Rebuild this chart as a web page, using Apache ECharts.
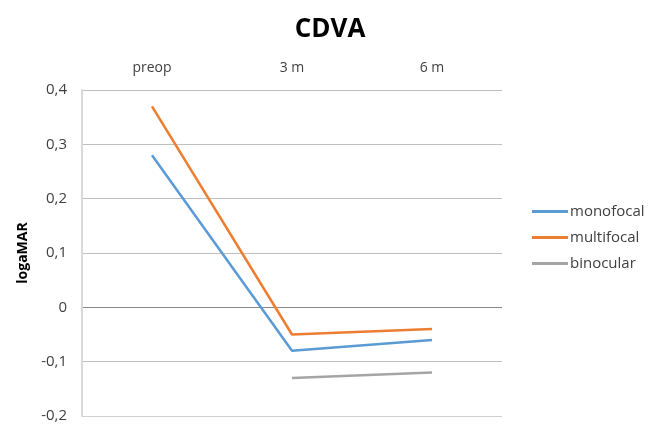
<!DOCTYPE html>
<html>
<head>
<meta charset="utf-8">
<script src="https://cdn.jsdelivr.net/npm/echarts@6/dist/echarts.min.js"></script>
<style>
  html, body { margin: 0; padding: 0; background: #fff; }
  #chart { width: 656px; height: 424px; }
</style>
</head>
<body>
<div id="chart"></div>
<script>
  var categories = ['preop', '3 m', '6 m'];
  var monofocal = [0.28, -0.08, -0.06];
  var multifocal = [0.37, -0.05, -0.04];
  var binocular = [null, -0.13, -0.12];

  var chart = echarts.init(document.getElementById('chart'));
  var font = '"Open Sans", sans-serif';

  function line(name, data, color) {
    return {
      name: name,
      type: 'line',
      data: data,
      symbol: 'none',
      lineStyle: { color: color, width: 2.5 },
      itemStyle: { color: color }
    };
  }

  chart.setOption({
    animation: false,
    title: {
      text: 'CDVA',
      left: 325,
      top: 12,
      textAlign: 'center',
      textStyle: { fontFamily: font, fontSize: 26, fontWeight: 'bold', color: '#000' }
    },
    legend: {
      orient: 'vertical',
      left: 527,
      top: 199,
      itemWidth: 36,
      itemHeight: 3,
      itemGap: 11,
      icon: 'rect',
      textStyle: { fontFamily: font, fontSize: 15, color: '#404040', padding: [0, 0, 0, -3] },
      data: ['monofocal', 'multifocal', 'binocular']
    },
    grid: { left: 82, right: 154, top: 90, bottom: 8 },
    xAxis: {
      type: 'category',
      position: 'top',
      data: categories,
      axisLine: { show: false },
      axisTick: { show: false },
      axisLabel: { fontFamily: font, fontSize: 14, color: '#404040', margin: 15 }
    },
    yAxis: {
      type: 'value',
      min: -0.2,
      max: 0.4,
      interval: 0.1,
      name: 'logaMAR',
      nameLocation: 'middle',
      nameGap: 52,
      nameTextStyle: { fontFamily: font, fontSize: 14, fontWeight: 'bold', color: '#000' },
      axisLine: { show: true, lineStyle: { color: '#d9d9d9', width: 2 } },
      axisTick: { show: false },
      splitLine: {
        lineStyle: {
          color: ['#d0d0d0', '#bfbfbf', '#868686', '#bfbfbf', '#bfbfbf', '#bfbfbf', '#bfbfbf'],
          width: 1
        }
      },
      axisLabel: {
        fontFamily: font,
        fontSize: 15,
        color: '#404040',
        margin: 15,
        formatter: function (v) {
          var r = Math.round(v * 10) / 10;
          return String(r).replace('.', ',');
        }
      }
    },
    series: [
      line('monofocal', monofocal, '#5b9bd5'),
      line('multifocal', multifocal, '#ed7d31'),
      line('binocular', binocular, '#a5a5a5')
    ]
  });
</script>
</body>
</html>
